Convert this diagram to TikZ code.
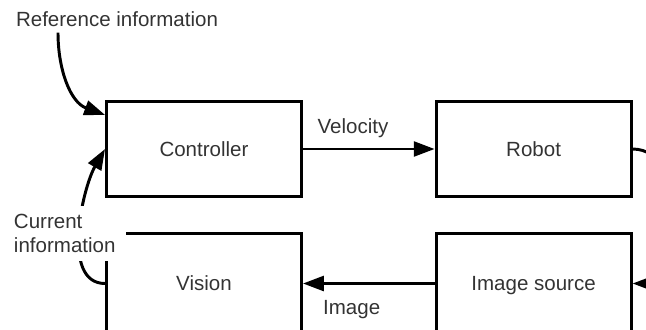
\documentclass[tikz,border=0pt]{standalone}
\usepackage{fontspec}
\setmainfont{Liberation Sans}
\usepackage[HTML]{xcolor}
\usepackage{tikz}
\usetikzlibrary{positioning, arrows.meta}

\definecolor{txtgray}{HTML}{333333}

\begin{document}
\begin{tikzpicture}[
  font=\fontsize{14.6}{17.5}\selectfont,
  line width=2.1pt,
  >={Triangle[length=0.52cm, width=0.37cm]},
  blk/.style={draw, inner sep=0pt, minimum width=4.875cm, minimum height=2.375cm,
    text height=0.468cm, text depth=0.1cm, text=txtgray},
  lowblk/.style={blk, minimum height=2.5cm},
  lbl/.style={text=txtgray}
]
\clip (0,0) rectangle (16.15,-8.225);

% blocks
\node[blk] (ctrl) at (5.1,-3.725) {Controller};
\node[blk] (robot) at (13.34,-3.725) {Robot};
\node[lowblk] (vision) at (5.1,-7.0875) {Vision};
\node[lowblk] (imgsrc) at (13.34,-7.0875) {Image source};

\node[lbl] (refinfo) at (2.925,-0.475) {Reference information};

% connectors
\draw[->] (ctrl) -- (robot) node[lbl, pos=0.38, above=0.12cm] (vel) {Velocity};
\draw[->] (imgsrc) -- (vision) node[lbl, pos=0.63, below=0.27cm] (img) {Image};
\draw[->] (robot.east) to[out=0, in=0, looseness=1.1] (imgsrc.east);
\draw[->] ([xshift=-1.475cm]refinfo.south) to[out=-90, in=160] (ctrl.161);
\draw[->] (vision.west) to[out=180, in=240, looseness=0.85] (ctrl.west);

\node[lbl, fill=white, text width=2.6cm, align=left, inner sep=0.2cm] (curinfo) at (1.65,-5.84) {Current\\information};
\end{tikzpicture}
\end{document}
